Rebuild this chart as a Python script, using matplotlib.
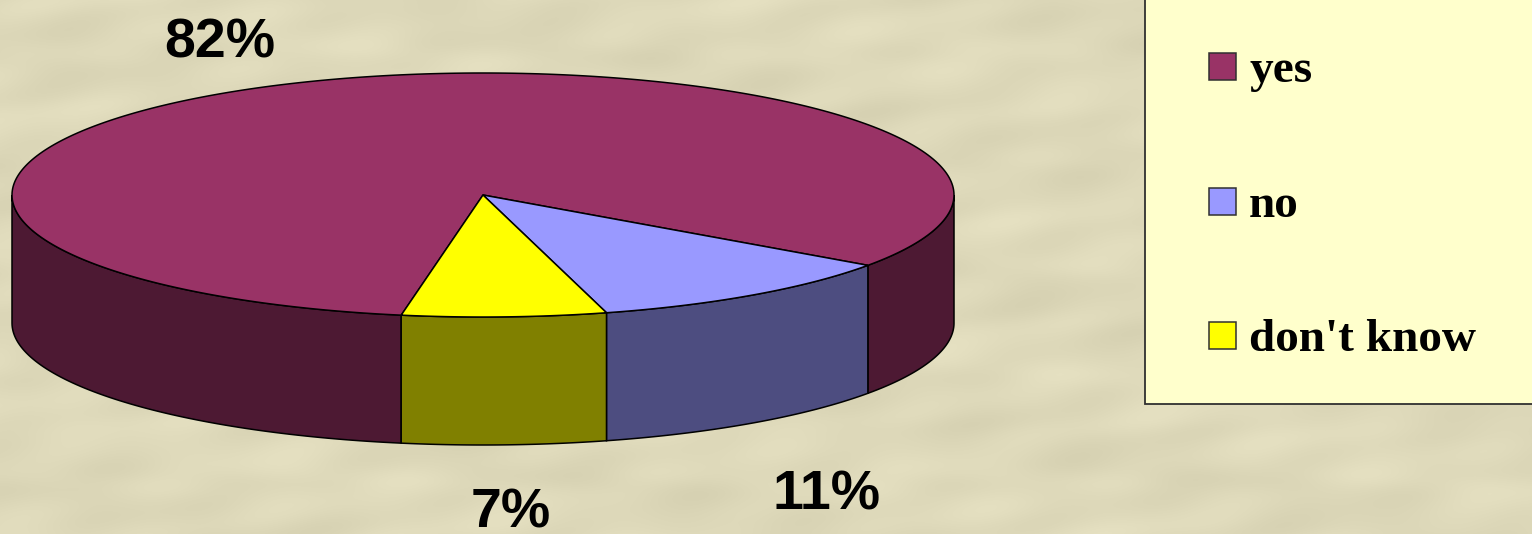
import numpy as np
import matplotlib
matplotlib.use("Agg")
import matplotlib.pyplot as plt
from matplotlib.patches import Rectangle

# Chart values
labels = ["yes", "no", "don't know"]
percents = [82, 11, 7]
top_colors = ["#993366", "#9999FF", "#FFFF00"]
side_colors = ["#4D1933", "#4D4D80", "#808000"]

# Pie geometry in pixels
cx, cy = 483, 195
rx, ry = 471, 122
depth = 128
start_angle = 260.0

fig = plt.figure(figsize=(15.32, 5.34), dpi=100)
ax = fig.add_axes([0, 0, 1, 1])
ax.set_xlim(0, 1532)
ax.set_ylim(534, 0)
ax.axis("off")

# Paper-like background, smooth bands instead of a photo texture
xx, yy = np.meshgrid(np.arange(1532), np.arange(534))
paper = (np.sin(xx / 37 + yy / 9) + np.sin(xx / 91 - yy / 23) + 0.7 * np.sin(xx / 19 + yy / 41)
         + 0.6 * np.sin(xx / 53 + np.sin(yy / 17) * 3))
paper = paper / np.abs(paper).max()
base = np.array([222, 217, 186]) / 255
ax.imshow(np.clip(base[None, None, :] + paper[..., None] * 0.03, 0, 1),
          extent=(0, 1532, 534, 0), aspect="auto", zorder=0)


def ellipse_xy(angles):
    rad = np.radians(angles)
    return cx + rx * np.cos(rad), cy - ry * np.sin(rad)


# Slices run clockwise from the start angle
edges = start_angle - np.cumsum([0] + percents) * 360 / sum(percents)

# Side walls first, only the front half of the ellipse shows
for i in range(len(percents)):
    hi, lo = edges[i], edges[i + 1]
    for shift in (0, -360):
        a = max(lo, 180 + shift)
        b = min(hi, 360 + shift)
        if b <= a:
            continue
        ang = np.linspace(a, b, 80)
        x, y = ellipse_xy(ang)
        ax.fill(np.r_[x, x[::-1]], np.r_[y, y[::-1] + depth],
                facecolor=side_colors[i], edgecolor="black", linewidth=1.1, zorder=2)

# Top faces
for i in range(len(percents)):
    ang = np.linspace(edges[i], edges[i + 1], 300)
    x, y = ellipse_xy(ang)
    ax.fill(np.r_[cx, x], np.r_[cy, y], facecolor=top_colors[i],
            edgecolor="black", linewidth=1.1, zorder=3)

# Data labels, placed by their baseline
label_pos = [(220, 57), (827, 510), (511, 528)]
for p, (lx, ly) in zip(percents, label_pos):
    ax.text(lx, ly, f"{p}%", family="Liberation Sans", fontweight="bold", fontsize=40,
            ha="center", va="baseline", color="black", zorder=5)

# Legend box, runs off the top and right of the picture
ax.add_patch(Rectangle((1145, -5), 400, 409, facecolor="#FFFFCC", edgecolor="#303030",
                       linewidth=1.3, zorder=4))
legend_y = [67, 202, 336]
for name, col, ly in zip(labels, top_colors, legend_y):
    ax.add_patch(Rectangle((1209, ly - 14), 27, 27, facecolor=col, edgecolor="#303030",
                           linewidth=1.1, zorder=5))
    ax.text(1249, ly + 15, name, family="Liberation Serif", fontweight="bold", fontsize=34,
            ha="left", va="baseline", color="black", zorder=5)

fig.savefig("out.png", dpi=100)
